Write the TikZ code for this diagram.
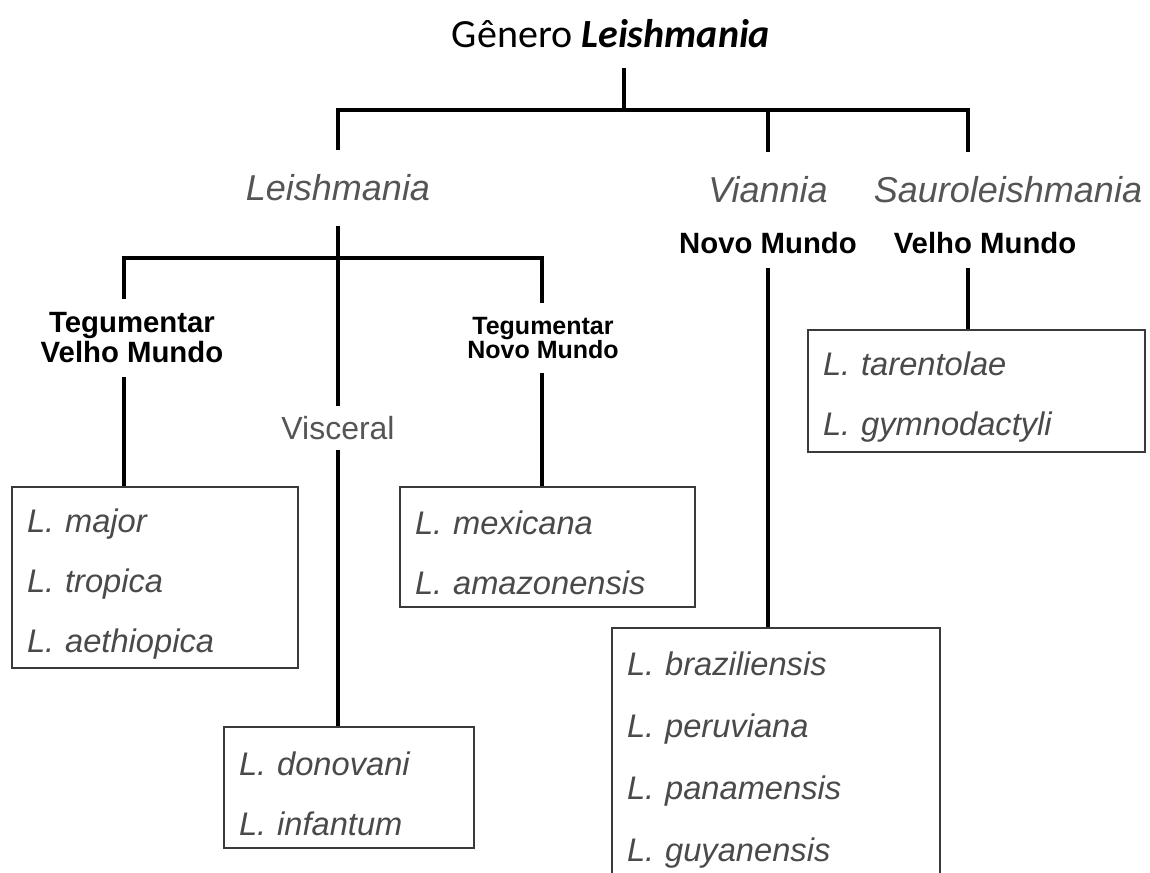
\documentclass[tikz,border=0pt]{standalone}
\usepackage{fontspec}
\setmainfont{Liberation Sans}
\newfontfamily\titlefont{Carlito}
\definecolor{txtgray}{HTML}{4A4A4A}
\definecolor{headgray}{HTML}{555555}
\definecolor{boxgray}{HTML}{3A3A3A}
\tikzset{
  tree/.style={line width=3pt, black},
  subgen/.style={inner sep=0pt, text height=19.3pt, text depth=0pt, font=\fontsize{27}{30}\selectfont\itshape, text=headgray},
  region/.style={inner sep=0pt, font=\bfseries\fontsize{22}{22.5}\selectfont, align=center, text=black},
  species/.style={draw=boxgray, line width=1.6pt, inner xsep=11.25pt, inner ysep=0pt, align=left,
     font=\fontsize{24.5}{45}\selectfont\itshape, text=txtgray,
     execute at begin node={\rule{0pt}{27pt}}},
}
\begin{document}
\begin{tikzpicture}[x=0.75pt, y=-0.75pt]
\useasboundingbox (0,0) rectangle (1150,873);
\clip (0,0) rectangle (1150,873);
\fill[white] (0,0) rectangle (1150,873);

% labels
\node[inner sep=0pt, text height=19.3pt, text depth=0pt, font=\titlefont\fontsize{30}{33}\selectfont, outer ysep=15pt] (title) at (611,35) {Gênero \textbf{\textit{Leishmania}}};
\node[subgen, outer ysep=19pt] (lei) at (338,188) {Leishmania};
\node[subgen, outer ysep=19pt] (vian) at (768,190) {Viannia};
\node[subgen, outer ysep=19pt] (sau) at (1008,190) {Sauroleishmania};
\node[region, text height=15.8pt, text depth=0pt, outer ysep=11pt] (nm) at (768,243) {Novo Mundo};
\node[region, text height=15.8pt, text depth=0pt, outer ysep=11pt] (vm) at (985,243) {Velho Mundo};
\node[region, outer ysep=10pt] (tvm) at (132,338) {Tegumentar\\Velho Mundo};
\node[region, font=\bfseries\fontsize{18.75}{18}\selectfont, outer ysep=11pt] (tnm) at (543,338) {Tegumentar\\Novo Mundo};
\node[inner sep=0pt, text height=17.2pt, text depth=0pt, font=\fontsize{24}{28}\selectfont, text=headgray, outer ysep=8pt] (vis) at (338,428) {Visceral};

% species boxes
\node[species, text width=192pt, minimum height=135.75pt] (boxA) at (155,577.5)
  {L. major\\L. tropica\\L. aethiopica};
\node[species, text width=198.75pt, minimum height=90pt] (boxM) at (547.5,547)
  {L. mexicana\\L. amazonensis};
\node[species, text width=165pt, minimum height=90.75pt] (boxD) at (349,787.5)
  {L. donovani\\L. infantum};
\node[species, text width=223.5pt, minimum height=189pt, font=\fontsize{24.5}{46.5}\selectfont\itshape] (boxV) at (776,754)
  {L. braziliensis\\L. peruviana\\L. panamensis\\L. guyanensis};
\node[species, text width=230.25pt, minimum height=91.5pt] (boxS) at (976.5,391)
  {L. tarentolae\\L. gymnodactyli};

% connectors
\coordinate (r) at (624,110);
\coordinate (sj) at (968,110);
\coordinate (hl) at (124,258);
\coordinate (hr) at (542,258);

\draw[tree] (title.south -| r) -- (r);
\draw[tree] (lei.north) |- (sj) -- (sj |- sau.north);
\draw[tree] (vian.north |- r) -- (vian.north);
\draw[tree] (nm.south) -- (nm.south |- boxV.north);
\draw[tree] (sj |- vm.south) -- (sj |- boxS.north);

\draw[tree] (lei.south) -- (vis.north);
\draw[tree] (vis.south) -- (vis.south |- boxD.north);
\draw[tree] (hl |- tvm.north) -- (hl) -- (hr) -- (hr |- tnm.north);
\draw[tree] (hl |- tvm.south) -- (hl |- boxA.north);
\draw[tree] (hr |- tnm.south) -- (hr |- boxM.north);
\end{tikzpicture}
\end{document}
